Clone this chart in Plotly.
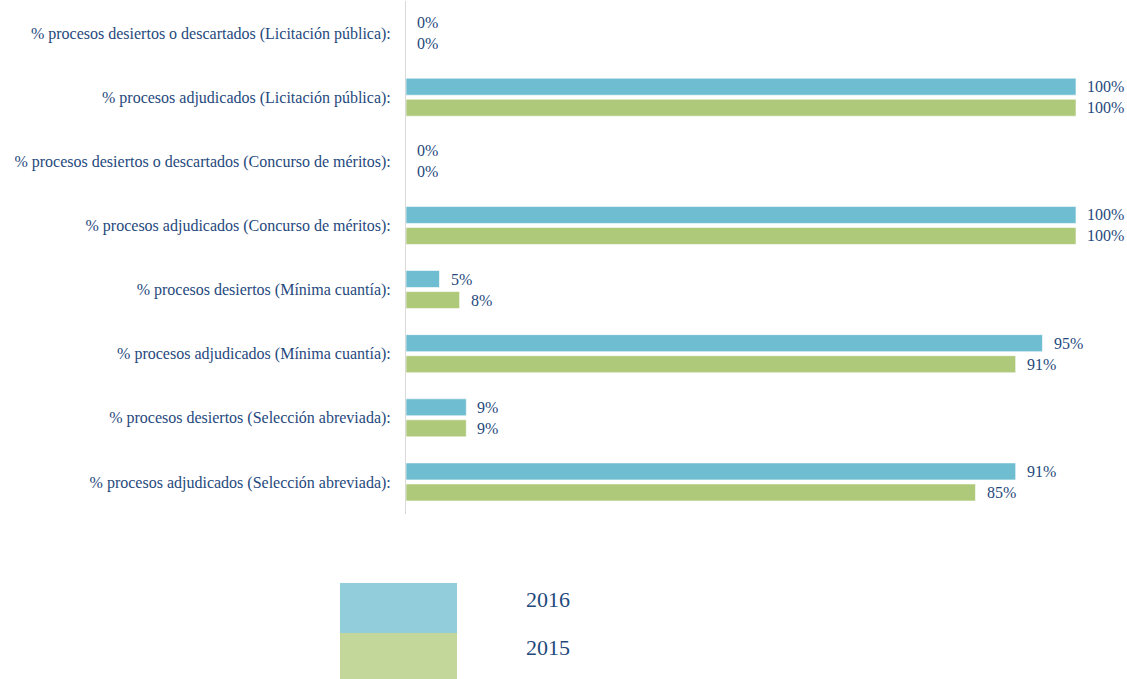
import plotly.graph_objects as go

categories = [
    "% procesos desiertos o descartados (Licitación pública):",
    "% procesos adjudicados (Licitación pública):",
    "% procesos desiertos o descartados (Concurso de méritos):",
    "% procesos adjudicados (Concurso de méritos):",
    "% procesos desiertos (Mínima cuantía):",
    "% procesos adjudicados (Mínima cuantía):",
    "% procesos desiertos (Selección abreviada):",
    "% procesos adjudicados (Selección abreviada):",
]
series_names = ["2016", "2015"]
values_2016 = [0, 100, 0, 100, 5, 95, 9, 91]
values_2015 = [0, 100, 0, 100, 8, 91, 9, 85]

bar_colors = ["#6FBDD1", "#AFC97A"]
legend_colors = ["#92CDDC", "#C4D79B"]
text_color = "#1F497D"
font_family = "Liberation Serif, Times New Roman, serif"

W, H = 1127, 679
ml, mr, mt, mb = 406, 20, 1, 165
pw = W - ml - mr
ph = H - mt - mb
x_max = 100 * pw / 670.0

fig = go.Figure()
series = [values_2016, values_2015]
for name, vals, col in zip(series_names, series, bar_colors):
    fig.add_trace(go.Bar(
        y=categories, x=vals, name=name, orientation="h",
        marker=dict(color=col, line=dict(color="rgba(255,255,255,0.6)", width=1)),
        showlegend=False, hoverinfo="skip",
    ))

annotations = []
for i, vals in enumerate(series):
    shift = 10.5 if i == 0 else -10.5
    for cat, v in zip(categories, vals):
        annotations.append(dict(
            x=v, y=cat, xref="x", yref="y", text=f"{v}%", showarrow=False,
            xanchor="left", yanchor="middle", xshift=9, yshift=shift,
            font=dict(family=font_family, size=16, color=text_color),
        ))

def px_to_paper_x(px):
    return (px - ml) / pw

def px_to_paper_y(py):
    return (H - mb - py) / ph

shapes = []
box_tops = [583, 633]
box_bottoms = [633, 690]
text_y = [600, 648]
for name, col, t, b, ty in zip(series_names, legend_colors, box_tops, box_bottoms, text_y):
    shapes.append(dict(type="rect", xref="paper", yref="paper",
                       x0=px_to_paper_x(340), x1=px_to_paper_x(457),
                       y0=px_to_paper_y(b), y1=px_to_paper_y(t),
                       fillcolor=col, line=dict(width=0), layer="above"))
    annotations.append(dict(x=px_to_paper_x(524), y=px_to_paper_y(ty), xref="paper", yref="paper",
                            text=name, showarrow=False, xanchor="left", yanchor="middle",
                            font=dict(family=font_family, size=22, color=text_color)))

fig.update_layout(
    width=W, height=H,
    margin=dict(l=ml, r=mr, t=mt, b=mb, autoexpand=False),
    paper_bgcolor="white", plot_bgcolor="white",
    barmode="group", bargap=0.344, bargroupgap=0.19,
    font=dict(family=font_family, size=16, color=text_color),
    xaxis=dict(range=[0, x_max], showgrid=False, zeroline=False, showticklabels=False,
               showline=False, ticks=""),
    yaxis=dict(autorange="reversed", showgrid=False, zeroline=False, showline=True,
               linecolor="#D9D9D9", linewidth=1, ticks="", ticklabelstandoff=11,
               tickfont=dict(family=font_family, size=16, color=text_color),
               automargin=False),
    annotations=annotations, shapes=shapes,
)

fig.write_html("out.html", config={"displayModeBar": False},
               post_script="document.body.style.margin='0';document.body.style.overflow='hidden';")
